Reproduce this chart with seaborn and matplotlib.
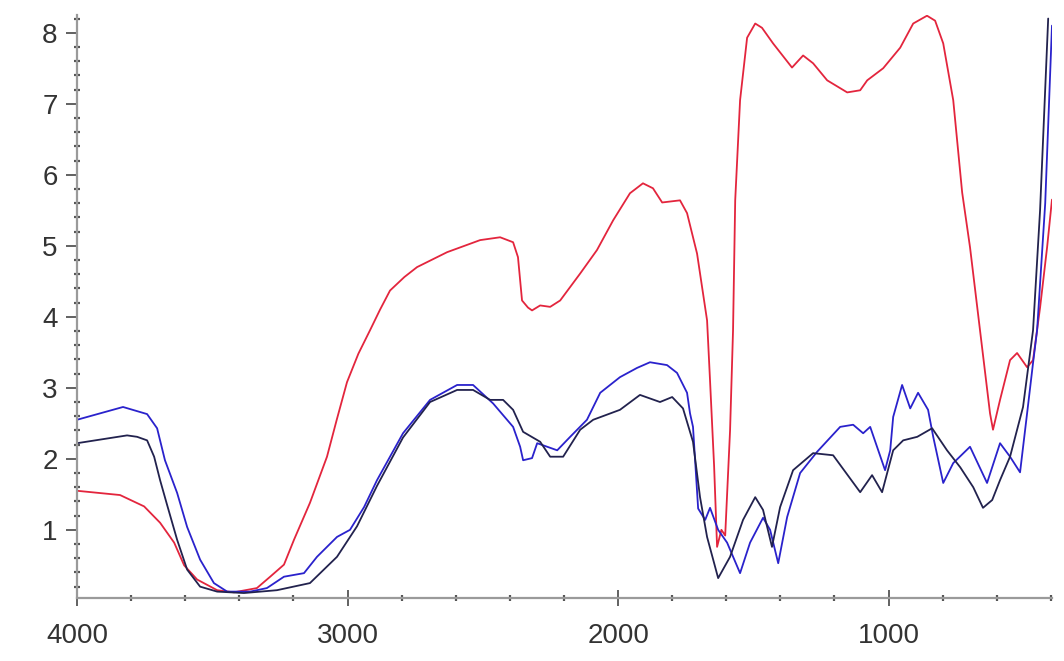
import matplotlib
matplotlib.use("Agg")
import matplotlib.pyplot as plt
from matplotlib.ticker import MultipleLocator
import seaborn as sns
import pandas as pd

# wavenumber (cm-1) / absorbance
red_x = [4000, 3841, 3752, 3693, 3641, 3604, 3556, 3482, 3420, 3335, 3286, 3235, 3198,
         3139, 3076, 3040, 3002, 2960, 2917, 2880, 2843, 2790, 2743, 2632, 2510, 2436,
         2388, 2370, 2355, 2333, 2318, 2288, 2251, 2214, 2140, 2078, 2018, 1956, 1908,
         1871, 1837, 1771, 1745, 1708, 1671, 1660, 1645, 1634, 1618, 1604, 1586, 1575,
         1567, 1549, 1523, 1493, 1468, 1427, 1357, 1316, 1279, 1227, 1153, 1105, 1079,
         1020, 957, 909, 858, 828, 798, 761, 728, 699, 662, 625, 614, 588, 551, 525, 488,
         466, 440, 414, 396]
red_y = [1.55, 1.49, 1.33, 1.10, 0.82, 0.50, 0.30, 0.15, 0.12, 0.18, 0.34, 0.51, 0.86,
         1.38, 2.03, 2.55, 3.08, 3.48, 3.81, 4.10, 4.37, 4.56, 4.70, 4.91, 5.08, 5.12,
         5.05, 4.84, 4.23, 4.13, 4.09, 4.16, 4.14, 4.23, 4.61, 4.94, 5.36, 5.74, 5.88,
         5.81, 5.61, 5.64, 5.46, 4.89, 3.95, 3.10, 1.90, 0.76, 1.00, 0.92, 2.40, 3.81,
         5.64, 7.05, 7.93, 8.13, 8.07, 7.85, 7.51, 7.68, 7.57, 7.33, 7.16, 7.19, 7.33,
         7.50, 7.79, 8.13, 8.24, 8.17, 7.85, 7.05, 5.75, 4.98, 3.81, 2.64, 2.41, 2.83,
         3.39, 3.49, 3.29, 3.39, 4.13, 4.98, 5.65]

blue_x = [4000, 3830, 3741, 3704, 3675, 3630, 3593, 3545, 3494, 3445, 3360, 3298, 3235,
          3161, 3113, 3039, 2991, 2939, 2891, 2795, 2695, 2595, 2536, 2462, 2388, 2362,
          2351, 2318, 2299, 2262, 2225, 2177, 2115, 2066, 1993, 1930, 1882, 1819, 1782,
          1745, 1734, 1723, 1704, 1678, 1660, 1630, 1597, 1549, 1512, 1464, 1438, 1408,
          1375, 1327, 1264, 1179, 1131, 1094, 1068, 1013, 994, 983, 950, 920, 891, 854,
          835, 798, 761, 699, 636, 588, 551, 514, 488, 466, 451, 421, 396]
blue_y = [2.55, 2.73, 2.63, 2.43, 1.98, 1.52, 1.04, 0.58, 0.25, 0.13, 0.13, 0.18, 0.34,
          0.39, 0.62, 0.90, 1.00, 1.32, 1.70, 2.36, 2.83, 3.04, 3.04, 2.78, 2.45, 2.17,
          1.98, 2.01, 2.22, 2.17, 2.12, 2.31, 2.55, 2.93, 3.15, 3.28, 3.36, 3.32, 3.21,
          2.93, 2.64, 2.45, 1.30, 1.14, 1.31, 1.00, 0.82, 0.39, 0.82, 1.17, 1.00, 0.53,
          1.18, 1.80, 2.10, 2.45, 2.48, 2.36, 2.45, 1.84, 2.12, 2.59, 3.04, 2.71, 2.93, 2.69,
          2.31, 1.66, 1.94, 2.17, 1.66, 2.22, 2.03, 1.81, 2.64, 3.35, 3.81, 5.60, 8.10]

navy_x = [4000, 3815, 3778, 3741, 3715, 3693, 3667, 3630, 3593, 3545, 3482, 3383, 3261,
          3139, 3039, 2965, 2891, 2795, 2695, 2595, 2536, 2473, 2425, 2388, 2351, 2288,
          2251, 2203, 2140, 2092, 1993, 1919, 1845, 1800, 1760, 1723, 1697, 1671, 1630,
          1586, 1538, 1493, 1464, 1431, 1401, 1353, 1279, 1205, 1105, 1061, 1024, 983,
          946, 894, 839, 784, 735, 687, 651, 617, 588, 551, 503, 466, 440, 410]
navy_y = [2.22, 2.33, 2.31, 2.26, 2.03, 1.70, 1.35, 0.86, 0.44, 0.20, 0.13, 0.11, 0.15,
          0.25, 0.62, 1.05, 1.62, 2.30, 2.80, 2.97, 2.97, 2.83, 2.83, 2.69, 2.38, 2.24,
          2.03, 2.03, 2.41, 2.55, 2.69, 2.90, 2.80, 2.87, 2.71, 2.24, 1.46, 0.90, 0.32,
          0.62, 1.14, 1.46, 1.28, 0.76, 1.32, 1.84, 2.08, 2.05, 1.53, 1.77, 1.53, 2.12,
          2.26, 2.31, 2.43, 2.12, 1.88, 1.60, 1.31, 1.42, 1.70, 2.03, 2.73, 3.81, 5.50, 8.20]

sns.set_style("white")
plt.rcParams["font.family"] = ["Liberation Sans Narrow", "Liberation Sans", "DejaVu Sans"]

fig = plt.figure(figsize=(10.64, 6.61), dpi=100)
ax = fig.add_axes([0.0724, 0.0953, 0.9163, 0.882])

series = [(red_x, red_y, "#e3253d"), (blue_x, blue_y, "#2a22cc"), (navy_x, navy_y, "#22224e")]
for xs, ys, col in series:
    df = pd.DataFrame({"wn": xs, "abs": ys})
    sns.lineplot(data=df, x="wn", y="abs", ax=ax, color=col, linewidth=1.3,
                 estimator=None, sort=False)

ax.set_xlim(4000, 396)
ax.set_ylim(0.04, 8.25)
ax.set_xlabel("")
ax.set_ylabel("")

ax.xaxis.set_major_locator(MultipleLocator(1000))
ax.xaxis.set_minor_locator(MultipleLocator(200))
ax.yaxis.set_major_locator(MultipleLocator(1))
ax.yaxis.set_minor_locator(MultipleLocator(0.2))

for side in ["top", "right"]:
    ax.spines[side].set_visible(False)
for side in ["left", "bottom"]:
    ax.spines[side].set_color("#9a9a9a")
    ax.spines[side].set_linewidth(1.6)

# seaborn "white" hides ticks, turn them back on
ax.tick_params(axis="both", which="both", bottom=True, left=True)
ax.tick_params(axis="y", which="major", direction="out", length=8, width=1.3,
               color="#555555", labelsize=20, labelcolor="#333333", pad=6)
ax.tick_params(axis="x", which="major", direction="inout", length=12, width=1.3,
               color="#555555", labelsize=20, labelcolor="#333333", pad=12)
ax.tick_params(axis="both", which="minor", direction="inout", length=4, width=1.6,
               color="#555555")

fig.savefig("out.png", dpi=100, facecolor="white")
